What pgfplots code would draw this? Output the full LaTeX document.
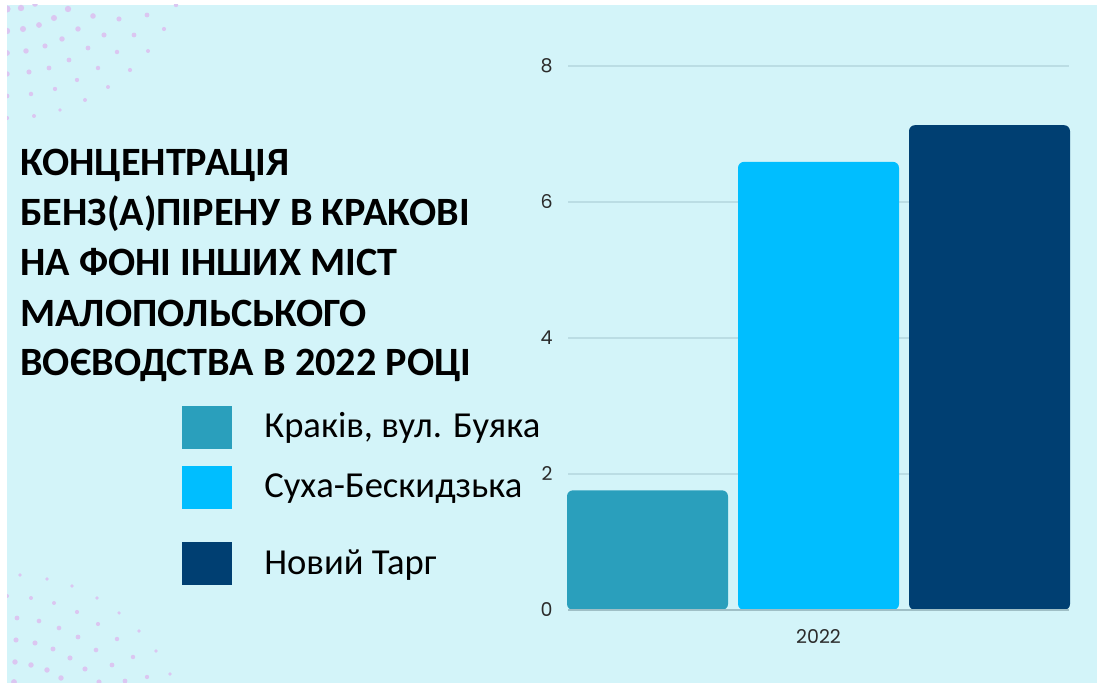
\documentclass[border=0pt]{standalone}
\usepackage{fontspec}
\setmainfont{Carlito}
\newfontfamily\tickfont{Poppins}
\usepackage{pgfplots}
\pgfplotsset{compat=1.18}
\definecolor{bg}{HTML}{D3F4F9}
\definecolor{dotc}{HTML}{DBC6F1}
\definecolor{barA}{HTML}{2A9FBC}
\definecolor{barB}{HTML}{00BEFF}
\definecolor{barC}{HTML}{003F72}
\definecolor{gridc}{HTML}{BBDDE4}
\definecolor{basec}{HTML}{9FBFC6}
\definecolor{tickc}{HTML}{2B2B2B}
\begin{document}
\begin{tikzpicture}
\path[use as bounding box, fill=white] (0,0) rectangle (548.5pt,341.5pt);
\begin{scope}[x=0.5pt,y=-0.5pt,yshift=341.5pt]
  \fill[bg] (7,5) rectangle (1097,683);
  \begin{scope}
    \clip (7,5) rectangle (1097,683);
    \foreach \x/\y/\r in {7/9/4.5,21/8/4,35/4/3.5,68/9/4,54/18/3.8,93/16/3.5,119/19/3.2,147/15/3,176/5/2.8,
      7/31/4,23/29/3.8,39/25/3.6,78/29/3.4,62/39/3.4,104/35/3.2,134/35/3,164/29/2.6,
      7/53/3.6,26/51/3.4,45/46/3.2,88/48/3,69/60/3,117/52/2.8,148/51/2.5,
      7/74/3.4,29/72/3.2,49/68/3,98/68/2.8,77/80/2.7,130/70/2.6,108/87/2.5,
      7/96/3,31/94/2.8,55/89/2.7,85/100/2.5,60/110/2.4,7/118/2.6,34/116/2.5,
      20/575/2.2,47/579/2.2,72/586/2.2,7/596/2.5,31/598/2.5,54/603/2.5,97/598/2.2,77/612/2.6,119/613/2.2,
      17/618/3,39/621/2.9,59/628/2.9,98/624/2.6,139/631/2.3,16/640/3.2,35/643/3.2,53/649/3.1,
      78/637/3,117/639/2.8,96/650/2.9,156/651/2.4,15/662/3.4,31/665/3.4,47/670/3.4,70/658/3.2,
      85/669/3.2,112/665/3,133/657/2.8,170/674/2.4,147/677/2.7,61/678/3.4,14/682/3.6,99/682/3.2,125/681/3}
      \fill[dotc] (\x,\y) circle[radius=0.8*\r];
  \end{scope}
  \begin{scope}[every node/.style={inner sep=0pt, anchor=base west, font=\bfseries\fontsize{20.1}{25}\selectfont}]
    \node at (20,176) {КОНЦЕНТРАЦІЯ};
    \node at (20,226) {БЕНЗ(А)ПІРЕНУ В КРАКОВІ};
    \node at (20,276) {НА ФОНІ ІНШИХ МІСТ};
    \node at (20,327) {МАЛОПОЛЬСЬКОГО};
    \node at (20,376) {ВОЄВОДСТВА В 2022 РОЦІ};
  \end{scope}
  \fill[barA] (182,406) rectangle (232,449);
  \fill[barB] (182,466) rectangle (232,509);
  \fill[barC] (182,542) rectangle (232,585);
  \begin{scope}[every node/.style={inner sep=0pt, anchor=base west, font=\fontsize{18.3}{22}\selectfont}]
    \node at (264,438) {Краків, вул. Буяка};
    \node at (264,498) {Суха-Бескидзька};
    \node at (264,575) {Новий Тарг};
  \end{scope}
\end{scope}
\begin{axis}[
  at={(284pt,36.5pt)}, anchor=south west,
  scale only axis, width=250.5pt, height=272pt,
  ymin=0, ymax=8, xmin=-1.5, xmax=1.5,
  ytick={0,2,4,6,8}, xtick={0}, xticklabels={2022},
  axis line style={draw=none}, tick style={draw=none},
  ymajorgrids, grid style={color=gridc, line width=1pt},
  ybar=5pt, bar width=80.5pt,
  /pgf/number format/assume math mode=true,
  yticklabel style={font=\tickfont\fontsize{9.5}{10}\selectfont, text=tickc, inner sep=0pt, xshift=-7.5pt},
  xticklabel style={font=\tickfont\fontsize{9.5}{10}\selectfont, text=tickc, inner sep=0pt, yshift=-5.5pt},
  clip=false,
]
\addplot[fill=barA, draw=none, rounded corners=3pt] coordinates {(0,1.76)};
\addplot[fill=barB, draw=none, rounded corners=3pt] coordinates {(0,6.59)};
\addplot[fill=barC, draw=none, rounded corners=3pt] coordinates {(0,7.13)};
\draw[basec, line width=1pt] (axis cs:-1.5,0) -- (axis cs:1.5,0);
\end{axis}
\end{tikzpicture}
\end{document}
